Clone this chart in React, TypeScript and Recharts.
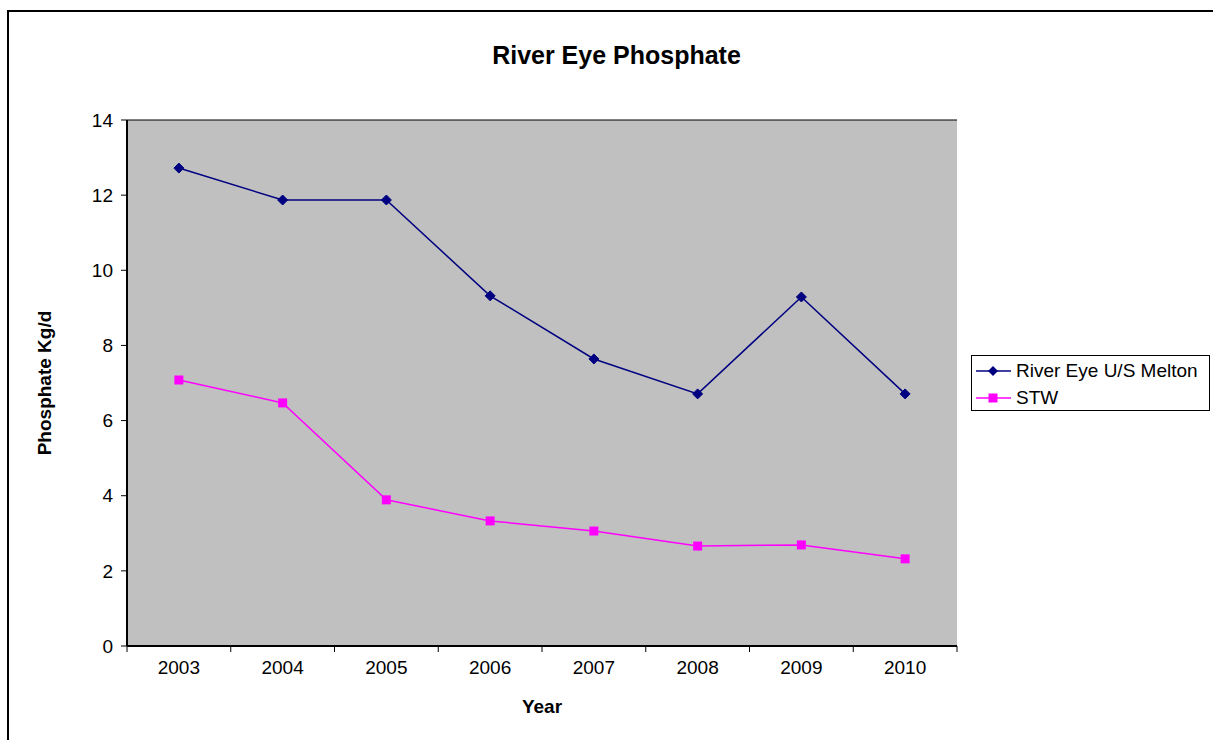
import React from 'react';
import { LineChart, Line, XAxis, YAxis, CartesianGrid } from 'recharts';

// Данные графика
const years = ['2003', '2004', '2005', '2006', '2007', '2008', '2009', '2010'];
const riverEye = [12.72, 11.87, 11.87, 9.32, 7.64, 6.71, 9.29, 6.71];
const stw = [7.08, 6.47, 3.89, 3.33, 3.06, 2.66, 2.69, 2.32];
const yTicks = [0, 2, 4, 6, 8, 10, 12, 14];

const seriesNames = ['River Eye U/S Melton', 'STW'];
const NAVY = '#000080';
const MAGENTA = '#FF00FF';

const W = 1213;
const H = 740;
const PLOT_LEFT = 127;
const PLOT_RIGHT = 957;
const PLOT_TOP = 120;
const PLOT_BOTTOM = 646;
const Y_AXIS_W = 60;
const X_AXIS_H = 50;
const FONT = 'Arial, "Liberation Sans", sans-serif';

const data = years.map((year, i) => ({
  x: i,
  year,
  river: riverEye[i],
  stw: stw[i],
}));

const xTicks = [...years.map((_, i) => i - 0.5), years.length - 0.5];
const band = (PLOT_RIGHT - PLOT_LEFT) / years.length;

const Diamond = (props: any) => {
  const { cx, cy } = props;
  if (cx == null || cy == null) return null;
  const r = 5;
  return (
    <polygon
      key={`d-${cx}`}
      points={`${cx},${cy - r} ${cx + r},${cy} ${cx},${cy + r} ${cx - r},${cy}`}
      fill={NAVY}
      stroke={NAVY}
    />
  );
};

const Square = (props: any) => {
  const { cx, cy } = props;
  if (cx == null || cy == null) return null;
  const s = 9;
  return <rect key={`s-${cx}`} x={cx - s / 2} y={cy - s / 2} width={s} height={s} fill={MAGENTA} />;
};

// Подписи лет между делениями
const YearTick = (props: any) => {
  const { x, y, payload } = props;
  const idx = Math.round(payload.value + 0.5);
  if (idx < 0 || idx >= years.length) return null;
  return (
    <text x={x + band / 2} y={y + 20} textAnchor="middle" fontSize={19} fontFamily={FONT} fill="#000">
      {years[idx]}
    </text>
  );
};

const LegendBox = () => (
  <div
    style={{
      position: 'absolute',
      left: 971,
      top: 355,
      width: 237,
      height: 54,
      border: '1px solid #000',
      background: '#fff',
      fontFamily: FONT,
      fontSize: 19,
    }}
  >
    {seriesNames.map((name, i) => (
      <div key={name} style={{ display: 'flex', alignItems: 'center', height: 27, marginTop: i === 0 ? 1 : 0 }}>
        <svg width={44} height={20} style={{ flex: 'none' }}>
          <line x1={4} y1={10} x2={39} y2={10} stroke={i === 0 ? NAVY : MAGENTA} strokeWidth={1.5} />
          {i === 0 ? (
            <polygon points="21,5 26,10 21,15 16,10" fill={NAVY} />
          ) : (
            <rect x={16.5} y={5.5} width={9} height={9} fill={MAGENTA} />
          )}
        </svg>
        <span style={{ lineHeight: '20px' }}>{name}</span>
      </div>
    ))}
  </div>
);

export default function App() {
  return (
    <div style={{ position: 'absolute', left: 0, top: 0, width: W, height: H, overflow: 'hidden', background: '#fff' }}>
      <div
        style={{
          position: 'absolute',
          left: 7,
          top: 10,
          width: W + 50,
          height: H + 50,
          borderLeft: '2px solid #000',
          borderTop: '2px solid #000',
        }}
      />
      <div
        style={{
          position: 'absolute',
          left: 0,
          width: W,
          top: 40,
          textAlign: 'center',
          paddingLeft: 20,
          boxSizing: 'border-box',
          fontFamily: FONT,
          fontWeight: 'bold',
          fontSize: 25,
          lineHeight: '30px',
        }}
      >
        River Eye Phosphate
      </div>
      <div style={{ position: 'absolute', left: 0, top: 0 }}>
        <LineChart
          width={W}
          height={H}
          data={data}
          margin={{
            top: PLOT_TOP,
            right: W - PLOT_RIGHT,
            left: PLOT_LEFT - Y_AXIS_W,
            bottom: H - PLOT_BOTTOM - X_AXIS_H,
          }}
        >
          <CartesianGrid vertical={false} stroke="#000" strokeWidth={1} fill="#C0C0C0" fillOpacity={1} />
          <XAxis
            dataKey="x"
            type="number"
            domain={[-0.5, years.length - 0.5]}
            ticks={xTicks}
            interval={0}
            height={X_AXIS_H}
            tick={<YearTick />}
            tickSize={6}
            axisLine={{ stroke: '#000', strokeWidth: 2 }}
            tickLine={{ stroke: '#000' }}
            allowDataOverflow
          />
          <YAxis
            yAxisId="left"
            domain={[0, 14]}
            ticks={yTicks}
            interval={0}
            width={Y_AXIS_W}
            tickSize={6}
            tickMargin={8}
            tick={{ fontSize: 19, fontFamily: FONT, fill: '#000' }}
            axisLine={{ stroke: '#000', strokeWidth: 2 }}
            tickLine={{ stroke: '#000' }}
          />
          <YAxis
            yAxisId="right"
            orientation="right"
            domain={[0, 14]}
            width={0}
            tick={false}
            tickLine={false}
            axisLine={{ stroke: '#808080', strokeWidth: 2 }}
          />
          <Line
            yAxisId="left"
            dataKey="river"
            name={seriesNames[0]}
            stroke={NAVY}
            strokeWidth={1.5}
            dot={Diamond}
            activeDot={false}
            isAnimationActive={false}
          />
          <Line
            yAxisId="left"
            dataKey="stw"
            name={seriesNames[1]}
            stroke={MAGENTA}
            strokeWidth={1.5}
            dot={Square}
            activeDot={false}
            isAnimationActive={false}
          />
        </LineChart>
      </div>
      <div
        style={{
          position: 'absolute',
          left: 45,
          top: 383,
          transform: 'translate(-50%, -50%) rotate(-90deg)',
          fontFamily: FONT,
          fontWeight: 'bold',
          fontSize: 19,
          whiteSpace: 'nowrap',
        }}
      >
        Phosphate Kg/d
      </div>
      <div
        style={{
          position: 'absolute',
          left: 542,
          top: 707,
          transform: 'translate(-50%, -50%)',
          fontFamily: FONT,
          fontWeight: 'bold',
          fontSize: 19,
          whiteSpace: 'nowrap',
        }}
      >
        Year
      </div>
      <LegendBox />
    </div>
  );
}
